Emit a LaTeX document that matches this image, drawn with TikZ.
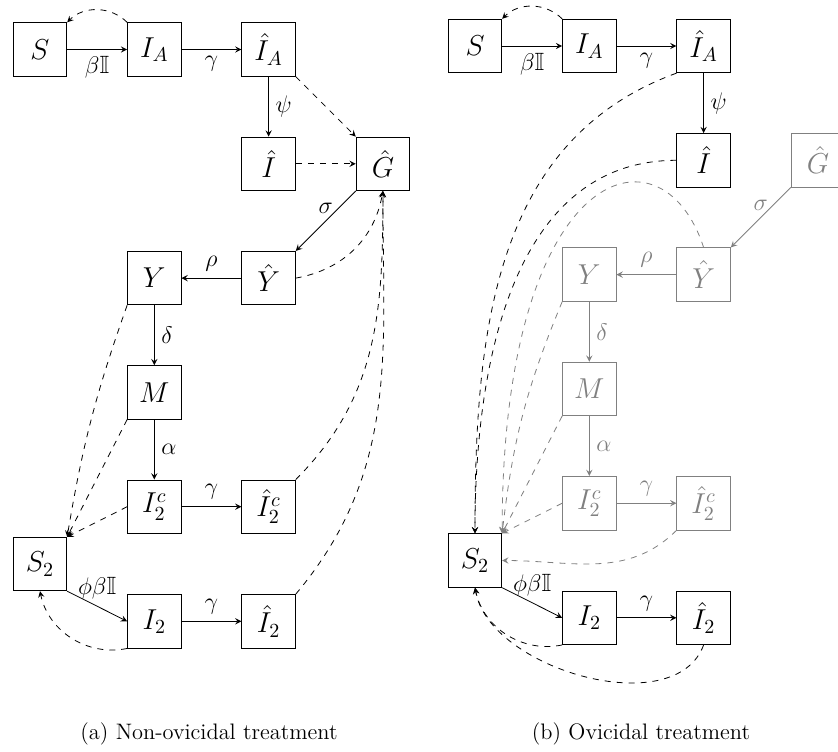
\documentclass[tikz,border=0pt]{standalone}
\usepackage{amssymb}
\usepackage{tikz}
\usetikzlibrary{matrix}

\tikzset{
  box/.style={draw, shape=rectangle, minimum size=26.75pt, inner sep=0pt, font=\Large},
  flow/.style={->},
  link/.style={->, dashed},
  faded/.style={gray},
}

\begin{document}
\begin{tikzpicture}[x=0.5pt, y=0.5pt, >=stealth, font=\fontsize{12.5}{15}\selectfont]
  \useasboundingbox (0,0) rectangle (838,-751);

  % (a) non-ovicidal
  \matrix (ma) [row sep=30pt, column sep=30pt, matrix anchor=aS.center] at (40,-49.5) {
  \node (aS) [box] {$S$}; & \node (aIA) [box] {$I_A$}; & \node (aIAh) [box] {$\hat I_A$}; & \\
  & & \node (aIh) [box] {$\hat I$}; & \node (aG) [box] {$\hat G$}; \\
  & \node (aY) [box] {$Y$}; & \node (aYh) [box] {$\hat Y$}; & \\
  & \node (aM) [box] {$M$}; & & \\
  & \node (aIc) [box] {$I_2^c$}; & \node (aIch) [box] {$\hat I_2^c$}; & \\[-28.5pt]
  \node (aS2) [box] {$S_2$}; & & & \\[-28.5pt]
  & \node (aI2) [box] {$I_2$}; & \node (aI2h) [box] {$\hat I_2$}; & \\};
  \draw[flow] (aS) -- node[below] {$\beta\mathbb{I}$} (aIA);
  \draw[flow] (aIA) -- node[below] {$\gamma$} (aIAh);
  \draw[link] (aIA.north west) to[bend right=45] (aS.north east);
  \draw[flow] (aIAh) -- node[right] {$\psi$} (aIh);
  \draw[link] (aIAh.south east) -- (aG.north west);
  \draw[link] (aIh) -- (aG);
  \draw[flow] (aG.south west) -- node[above] {$\sigma$} (aYh.north east);
  \draw[flow] (aYh) -- node[above] {$\rho$} (aY);
  \draw[link] (aYh.east) to[bend right=35] (aG.south);
  \draw[flow] (aY) -- node[right] {$\delta$} (aM);
  \draw[flow] (aM) -- node[right] {$\alpha$} (aIc);
  \draw[flow] (aIc) -- node[above] {$\gamma$} (aIch);
  \draw[link] (aY.south west) to[bend right=5] (aS2.north east);
  \draw[link] (aM.south west) -- (aS2.north east);
  \draw[link] (aIc.west) -- (aS2.north east);
  \draw[link] (aIch.north east) to[out=45, in=-90] (aG.south);
  \draw[link] (aI2h.north east) to[out=50, in=-90] (aG.south);
  \draw[flow] (aS2.south east) -- node[above] {$\phi\beta\mathbb{I}$} (aI2.west);
  \draw[flow] (aI2) -- node[above] {$\gamma$} (aI2h);
  \draw[link] (aI2.south west) to[bend left=45] (aS2.south);
  \node (capa) [anchor=base, font=\fontsize{11.2}{13.5}\selectfont] at (209,-739) {(a) Non-ovicidal treatment};

  % (b) ovicidal
  \matrix (mb) [row sep=30pt, column sep=30pt, matrix anchor=bS.center] at (475,-46) {
  \node (bS) [box] {$S$}; & \node (bIA) [box] {$I_A$}; & \node (bIAh) [box] {$\hat I_A$}; & \\
  & & \node (bIh) [box] {$\hat I$}; & \node (bG) [box, faded] {$\hat G$}; \\
  & \node (bY) [box, faded] {$Y$}; & \node (bYh) [box, faded] {$\hat Y$}; & \\
  & \node (bM) [box, faded] {$M$}; & & \\
  & \node (bIc) [box, faded] {$I_2^c$}; & \node (bIch) [box, faded] {$\hat I_2^c$}; & \\[-28.5pt]
  \node (bS2) [box] {$S_2$}; & & & \\[-28.5pt]
  & \node (bI2) [box] {$I_2$}; & \node (bI2h) [box] {$\hat I_2$}; & \\};
  \draw[flow] (bS) -- node[below] {$\beta\mathbb{I}$} (bIA);
  \draw[flow] (bIA) -- node[below] {$\gamma$} (bIAh);
  \draw[link] (bIA.north west) to[bend right=45] (bS.north east);
  \draw[flow] (bIAh) -- node[right] {$\psi$} (bIh);
  \draw[link] (bIAh.south west) to[out=200, in=90] (bS2.north);
  \draw[link] (bIh.west) to[out=180, in=90] (bS2.north);
  \draw[flow, faded] (bG.south west) -- node[above] {$\sigma$} (bYh.north east);
  \draw[flow, faded] (bYh) -- node[above] {$\rho$} (bY);
  \draw[flow, faded] (bY) -- node[right] {$\delta$} (bM);
  \draw[flow, faded] (bM) -- node[right] {$\alpha$} (bIc);
  \draw[flow, faded] (bIc) -- node[above] {$\gamma$} (bIch);
  \draw[link, faded] (bYh.north) to[out=108, in=90, out looseness=1, in looseness=2.7] (bS2.north east);
  \draw[link, faded] (bY.south west) to[bend right=8] (bS2.north east);
  \draw[link, faded] (bM.south west) -- (bS2.north east);
  \draw[link, faded] (bIc.west) -- (bS2.north east);
  \draw[link, faded] (bIch.south west) to[out=-135, in=0] (bS2.east);
  \draw[flow] (bS2.south east) -- node[above] {$\phi\beta\mathbb{I}$} (bI2.west);
  \draw[flow] (bI2) -- node[above] {$\gamma$} (bI2h);
  \draw[link] (bI2.south west) to[bend left=45] (bS2.south);
  \draw[link] (bI2h.south) to[out=-110, in=-80, looseness=0.9] (bS2.south);
  \node (capb) [anchor=base, font=\fontsize{11.2}{13.5}\selectfont] at (641,-739) {(b) Ovicidal treatment};
\end{tikzpicture}
\end{document}
